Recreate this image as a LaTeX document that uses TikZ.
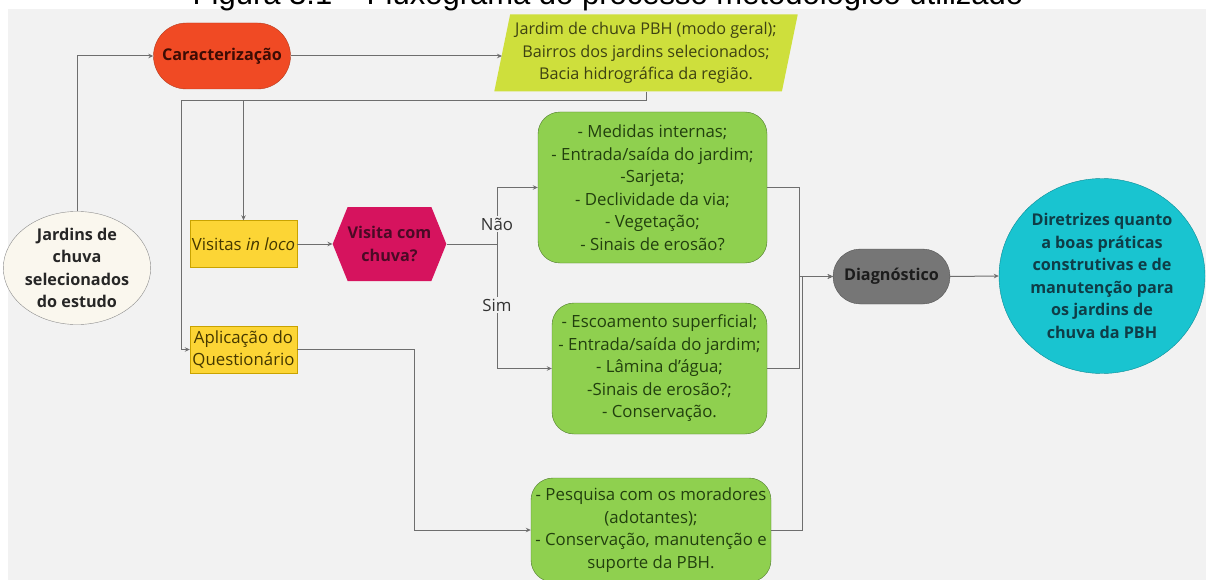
\documentclass[tikz,border=0pt]{standalone}
\usepackage{fontspec}
\setmainfont{Open Sans}
\newfontfamily\titlefont{Liberation Sans}
\usetikzlibrary{shapes.geometric, shapes.misc, shapes.symbols, arrows.meta}
\definecolor{bggray}{HTML}{F2F2F2}
\definecolor{linegray}{HTML}{6E6E6E}
\definecolor{startfill}{HTML}{FAF7EE}
\definecolor{startline}{HTML}{8C8C8C}
\definecolor{starttext}{HTML}{262626}
\definecolor{caracfill}{HTML}{F04A24}
\definecolor{caracline}{HTML}{B53A1C}
\definecolor{caractext}{HTML}{3D0C04}
\definecolor{limefill}{HTML}{CEDF3C}
\definecolor{limetext}{HTML}{3E4212}
\definecolor{yellowfill}{HTML}{FCD535}
\definecolor{yellowline}{HTML}{C9A300}
\definecolor{yellowtext}{HTML}{453800}
\definecolor{decfill}{HTML}{D6135E}
\definecolor{dectext}{HTML}{4A0A25}
\definecolor{greenfill}{HTML}{8FD04F}
\definecolor{greenline}{HTML}{4E7A2B}
\definecolor{greentext}{HTML}{22400E}
\definecolor{diagfill}{HTML}{767676}
\definecolor{diagline}{HTML}{555555}
\definecolor{diagtext}{HTML}{1C1C1C}
\definecolor{goalfill}{HTML}{19C4D0}
\definecolor{goalline}{HTML}{0C8C96}
\definecolor{goaltext}{HTML}{0F3D47}
\newcommand{\flowfont}{\fontsize{16.8}{22.5}\selectfont}
\newcommand{\flowbold}{\fontsize{16.2}{22.5}\selectfont\bfseries}
\tikzset{
	flownode/.style = {align=center, inner sep=0pt, text centered, font=\flowfont},
	startnode/.style = {flownode, ellipse, draw=startline, fill=startfill, text=starttext, font=\flowbold, minimum width=120pt, minimum height=109pt},
	pill/.style = {flownode, rounded rectangle, font=\flowbold},
	datanode/.style = {flownode, trapezium, trapezium left angle=76, trapezium right angle=104, trapezium stretches=true, fill=limefill, text=limetext, font=\fontsize{16.2}{22.5}\selectfont, minimum width=304pt, minimum height=77pt},
	activity/.style = {flownode, rectangle, draw=yellowline, fill=yellowfill, text=yellowtext, minimum width=107pt, minimum height=47pt},
	decision/.style = {flownode, signal, signal to=east and west, signal pointer angle=136, fill=decfill, text=dectext, font=\flowbold, minimum width=105pt, minimum height=74pt},
	result/.style = {flownode, rectangle, rounded corners=22pt, draw=greenline, fill=greenfill, text=greentext},
	goal/.style = {flownode, ellipse, draw=goalline, fill=goalfill, text=goaltext, font=\flowbold, minimum width=206pt, minimum height=195pt},
	flowline/.style = {draw=linegray, line width=1pt},
	arr/.style = {flowline, -{Stealth[length=5pt, width=4.5pt]}},
	branchlabel/.style = {flownode, fill=bggray, inner sep=2pt, text=black!80},
	titletext/.style = {anchor=base, inner sep=0pt, font=\titlefont\fontsize{31}{31}\selectfont}
}

\begin{document}
\begin{tikzpicture}[x=1pt, y=-1pt]
\useasboundingbox (0,0) rectangle (1206,580);
\fill[bggray] (8,9) rectangle (1206,580);
\node [titletext] (titulo) at (608,5) {Figura 3.1 – Fluxograma do processo metodológico utilizado};

\node [startnode] (jardins) at (77,268) {Jardins de\\chuva\\selecionados\\do estudo};
\node [pill, draw=caracline, fill=caracfill, text=caractext, minimum width=137pt, minimum height=66pt] (carac) at (222,56) {Caracterização};
\node [datanode] (dados) at (646,53) {Jardim de chuva PBH (modo geral);\\Bairros dos jardins selecionados;\\Bacia hidrográfica da região.};
\node [activity] (visitas) at (243.5,244) {Visitas \textit{in loco}};
\node [activity] (questionario) at (243.5,349.5) {Aplicação do\\Questionário};
\node [decision] (chuva) at (389.5,244) {Visita com\\chuva?};
\node [result, minimum width=229pt, minimum height=151pt] (medidas) at (652.5,187.5) {- Medidas internas;\\- Entrada/saída do jardim;\\-Sarjeta;\\- Declividade da via;\\- Vegetação;\\- Sinais de erosão?};
\node [result, minimum width=215pt, minimum height=131pt] (escoamento) at (659.5,368.5) {- Escoamento superficial;\\- Entrada/saída do jardim;\\- Lâmina d'água;\\-Sinais de erosão?;\\- Conservação.};
\node [result, minimum width=240pt, minimum height=104pt] (pesquisa) at (651,530) {- Pesquisa com os moradores\\(adotantes);\\- Conservação, manutenção e\\suporte da PBH.};
\node [pill, draw=diagline, fill=diagfill, text=diagtext, minimum width=117pt, minimum height=55pt] (diagnostico) at (891.5,276.5) {Diagnóstico};
\node [goal] (diretrizes) at (1102,276) {Diretrizes quanto\\a boas práticas\\construtivas e de\\manutenção para\\os jardins de\\chuva da PBH};

\coordinate (desce) at (181,101);
\coordinate (bifurca) at (497,244);
\draw[arr] (jardins.north) |- (carac.west);
\draw[arr] (carac.east) -- (carac.east -| dados.west);
\draw[arr] (dados.south) |- (desce) |- (questionario.west);
\draw[arr] (visitas.north |- desce) -- (visitas.north);
\draw[arr] (visitas.east) -- (chuva.west);
\draw[flowline] (chuva.east) -- (bifurca);
\draw[arr] (bifurca) |- (medidas.west);
\draw[arr] (bifurca) |- (escoamento.west);
\node [branchlabel] (nao) at (497,224) {Não};
\node [branchlabel] (sim) at (497,305) {Sim};
\draw[arr] (questionario.east) -- ++(117,0) |- (pesquisa.west);
\draw[arr] (medidas.east) -- ++(32,0) |- (diagnostico.west);
\draw[arr] (escoamento.east) -- ++(32,0) |- (diagnostico.west);
\draw[arr] (pesquisa.east) -- ++(31,0) |- (diagnostico.west);
\draw[arr] (diagnostico.east) -- (diretrizes.west);
\end{tikzpicture}
\end{document}
